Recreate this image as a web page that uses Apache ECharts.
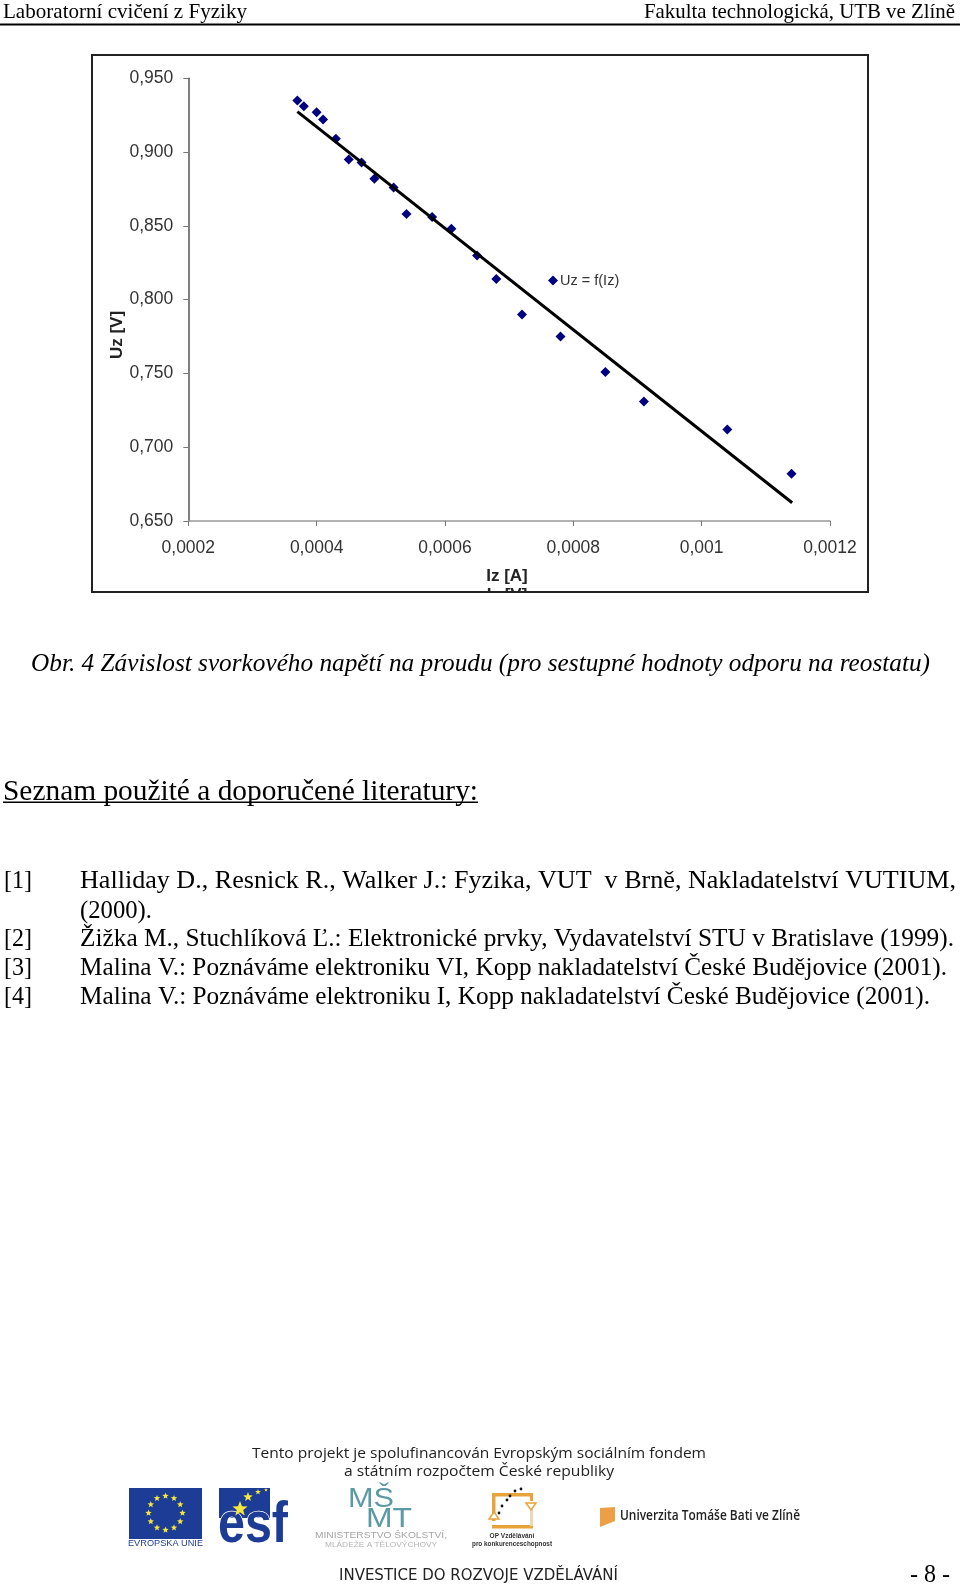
<!DOCTYPE html>
<html><head><meta charset="utf-8">
<style>html,body{margin:0;padding:0;background:#fff}#c{width:960px;height:1585px}</style>
<script src="https://cdn.jsdelivr.net/npm/echarts@6/dist/echarts.min.js"></script>
</head><body><div id="c"></div>
<script>
const currentA = [0.00037,0.00038,0.0004,0.00041,0.00043,0.00045,0.00047,0.00049,0.00052,0.00054,0.00058,0.00061,0.00065,0.00068,0.00072,0.00078,0.00085,0.00091,0.00104,0.00114];
const voltageV = [0.935,0.931,0.927,0.922,0.909,0.895,0.893,0.882,0.876,0.858,0.856,0.848,0.830,0.814,0.790,0.775,0.751,0.731,0.712,0.682];
const trendX = [0.00037,0.001141];
const trendY = [0.9274,0.6624];
const xTickLabels = ['0,0002','0,0004','0,0006','0,0008','0,001','0,0012'];
const yTickLabels = ['0,650','0,700','0,750','0,800','0,850','0,900','0,950'];
const seriesName = 'Uz = f(Iz)';
const xName = 'Iz [A]', yName = 'Uz [V]';
const headerLeft = 'Laboratorní cvičení z Fyziky';
const headerRight = 'Fakulta technologická, UTB ve Zlíně';
const caption = 'Obr. 4 Závislost svorkového napětí na proudu (pro sestupné hodnoty odporu na reostatu)';
const heading = 'Seznam použité a doporučené literatury:';
const refNums = ['[1]','','[2]','[3]','[4]'];
const refLines = [
 'Halliday D., Resnick R., Walker J.: Fyzika, VUT  v Brně, Nakladatelství VUTIUM,',
 '(2000).',
 'Žižka M., Stuchlíková Ľ.: Elektronické prvky, Vydavatelství STU v Bratislave (1999).',
 'Malina V.: Poznáváme elektroniku VI, Kopp nakladatelství České Budějovice (2001).',
 'Malina V.: Poznáváme elektroniku I, Kopp nakladatelství České Budějovice (2001).'
];
const SERIF='"Liberation Serif",serif', SANS='"Liberation Sans",sans-serif';
const ctx=document.createElement('canvas').getContext('2d');
function T(text,x,y,size,o={}){
  const font=(o.style||'')+' '+(o.weight||'')+' '+size+'px '+(o.family||SERIF);
  let sx=1; ctx.font=font;
  if(o.w) sx=o.w/ctx.measureText(text).width;
  const st={text:text,font:font,fill:o.fill||'#000',textAlign:o.align||'left',textVerticalAlign:'middle'};
  if(o.stroke){st.stroke=o.stroke;st.lineWidth=o.strokeW||1;}
  return {type:'text',z:o.z||50,x:x,y:y,scaleX:sx,rotation:o.rot||0,silent:true,style:st};
}
function star(cx,cy,r,fill,z){
  const p=[];for(let i=0;i<10;i++){const a=-Math.PI/2+i*Math.PI/5,q=i%2?r*0.42:r;p.push([cx+q*Math.cos(a),cy+q*Math.sin(a)]);}
  return {type:'polygon',z:z||52,silent:true,shape:{points:p},style:{fill:fill}};
}
function R(x,y,w,h,fill,z){return {type:'rect',z:z||50,silent:true,shape:{x,y,width:w,height:h},style:{fill}};}
const g=[];
g.push(T(headerLeft,3,12,22,{w:244}),T(headerRight,644,12,22,{w:311}),R(0,23.5,960,2,'#000'));
g.push(T(caption,31,664,25,{style:'italic',w:899}));
g.push(T(heading,3,792,29,{w:475}),R(3,801.5,475,1.6,'#000'));
const refY=[881,911,939,968,997], refW=[876,72,874,867,850];
refLines.forEach((l,i)=>{ if(refNums[i]) g.push(T(refNums[i],4,refY[i],25,{w:28}));
  g.push(T(l,80,refY[i],25,{w:refW[i]}));});
g.push(T(yName,117,335,17,{family:SANS,weight:'bold',align:'center',fill:'#222',rot:Math.PI/2,z:60}));
g.push(T(xName,507,576,17,{family:SANS,weight:'bold',align:'center',fill:'#222',z:60}));
g.push(T('Iz [V]',507,595,17,{family:SANS,weight:'bold',align:'center',fill:'#222',z:60}),R(480,591,60,14,'#fff',61));
g.push({type:'rect',z:62,silent:true,shape:{x:92,y:55,width:776,height:537},style:{fill:'none',stroke:'#222',lineWidth:2}});
g.push(T('Tento projekt je spolufinancován Evropským sociálním fondem',252,1454,15,{family:'"Open Sans",sans-serif',w:454,fill:'#222'}));
g.push(T('a státním rozpočtem České republiky',344,1472,15,{family:'"Open Sans",sans-serif',w:270,fill:'#222'}));
g.push(T('INVESTICE DO ROZVOJE VZDĚLÁVÁNÍ',339,1576,15,{family:'"DejaVu Sans",sans-serif',w:279,fill:'#222'}));
g.push(T('- 8 -',910,1575,26,{w:40}));
g.push(R(129,1488,73,51,'#1d3c96'));
for(let i=0;i<12;i++){const a=i*Math.PI/6;g.push(star(165.5+17*Math.sin(a),1513-17*Math.cos(a),3.4,'#f5e83a'));}
g.push(T('EVROPSKÁ UNIE',128,1544,8.5,{family:SANS,w:75,fill:'#1d3c96'}));
g.push(R(219,1488,51,30,'#1d3c96'));
g.push(T('esf',218,1526,58,{family:SANS,weight:'bold',w:70,fill:'#1d3c96',stroke:'#fff',strokeW:1.5,z:51}));
g.push(star(240,1509,8,'#f5e83a',53),star(248,1497,5,'#f5e83a',53),star(258,1492,3,'#f5e83a',53),star(266,1490,2,'#f5e83a',53));
g.push(T('MŠ',348,1499,28,{w:46,fill:'#5b99a5',family:SANS}));
g.push(T('MT',366,1519,28,{w:46,fill:'#5b99a5',family:SANS}));
g.push(T('MINISTERSTVO ŠKOLSTVÍ,',315,1536,9,{family:SANS,w:132,fill:'#a5a5a5'}));
g.push(T('MLÁDEŽE A TĚLOVÝCHOVY',325,1545,8,{family:SANS,w:112,fill:'#b5b5b5'}));
const org='#e8a33a';
g.push(R(492,1493,41,3.5,org),R(492,1525,41,3.5,org),R(492,1493,3.5,28,org),R(530,1493,3,8,org),R(530,1506,3,20,'#e8d9b8'));
g.push({type:'polygon',z:52,silent:true,shape:{points:[[526,1503],[536,1503],[531,1510]]},style:{fill:'#fff',stroke:org,lineWidth:1.5}});
g.push({type:'polygon',z:52,silent:true,shape:{points:[[489,1519],[499,1519],[494,1512]]},style:{fill:'#fff',stroke:org,lineWidth:1.5}});
[[499,1513],[502,1506],[507,1500],[510,1496],[515,1491],[521,1489]].forEach(p=>g.push({type:'circle',z:53,silent:true,shape:{cx:p[0],cy:p[1],r:1.4},style:{fill:'#111'}}));
g.push(T('OP Vzdělávání',512,1536,6.5,{family:SANS,weight:'bold',align:'center',fill:'#333'}));
g.push(T('pro konkurenceschopnost',472,1544,6.5,{family:SANS,weight:'bold',w:80,fill:'#333'}));
g.push({type:'polygon',z:50,silent:true,shape:{points:[[600,1508],[615,1507],[615,1521],[600,1527]]},style:{fill:'#ec9f45'}});
g.push(T('Univerzita Tomáše Bati ve Zlíně',620,1516,14,{family:'"Open Sans",sans-serif',weight:'600',w:180,fill:'#222'}));

const chart=echarts.init(document.getElementById('c'),null,{renderer:'canvas'});
const xMin=0.0002,xStep=0.0002,yMin=0.65,yStep=0.05;
chart.setOption({
  animation:false,backgroundColor:'#fff',
  grid:{left:188.3,right:130,top:78.3,bottom:1064,containLabel:false},
  legend:{show:true,data:[seriesName],left:548,top:273,itemWidth:10,itemHeight:10,itemGap:3,padding:0,
    textStyle:{fontFamily:SANS,fontSize:14.5,color:'#333',padding:[0,0,0,-3]}},
  xAxis:{type:'value',min:xMin,max:0.0012,interval:xStep,splitLine:{show:false},
    axisLine:{onZero:false,lineStyle:{color:'#999',width:1.5}},axisTick:{length:5,inside:false,lineStyle:{color:'#777'}},
    axisLabel:{margin:18,fontFamily:SANS,fontSize:17.5,color:'#333',hideOverlap:false,showMinLabel:true,showMaxLabel:true,
      formatter:v=>xTickLabels[Math.round((v-xMin)/xStep)]}},
  yAxis:{type:'value',min:yMin,max:0.95,interval:yStep,splitLine:{show:false},
    axisLine:{onZero:false,show:true,lineStyle:{color:'#555',width:1.5}},axisTick:{show:true,length:5,lineStyle:{color:'#777'}},
    axisLabel:{margin:15,fontFamily:SANS,fontSize:17.5,color:'#333',showMinLabel:true,showMaxLabel:true,
      formatter:v=>yTickLabels[Math.round((v-yMin)/yStep)]}},
  series:[
    {name:seriesName,type:'scatter',symbol:'diamond',symbolSize:10,itemStyle:{color:'#000080',opacity:1},
     data:currentA.map((x,i)=>[x,voltageV[i]]),z:2},
    {name:'trend',type:'line',showSymbol:false,symbol:'none',lineStyle:{color:'#000',width:3},
     data:trendX.map((x,i)=>[x,trendY[i]]),z:3}
  ],
  graphic:{elements:g}
});
</script></body></html>
